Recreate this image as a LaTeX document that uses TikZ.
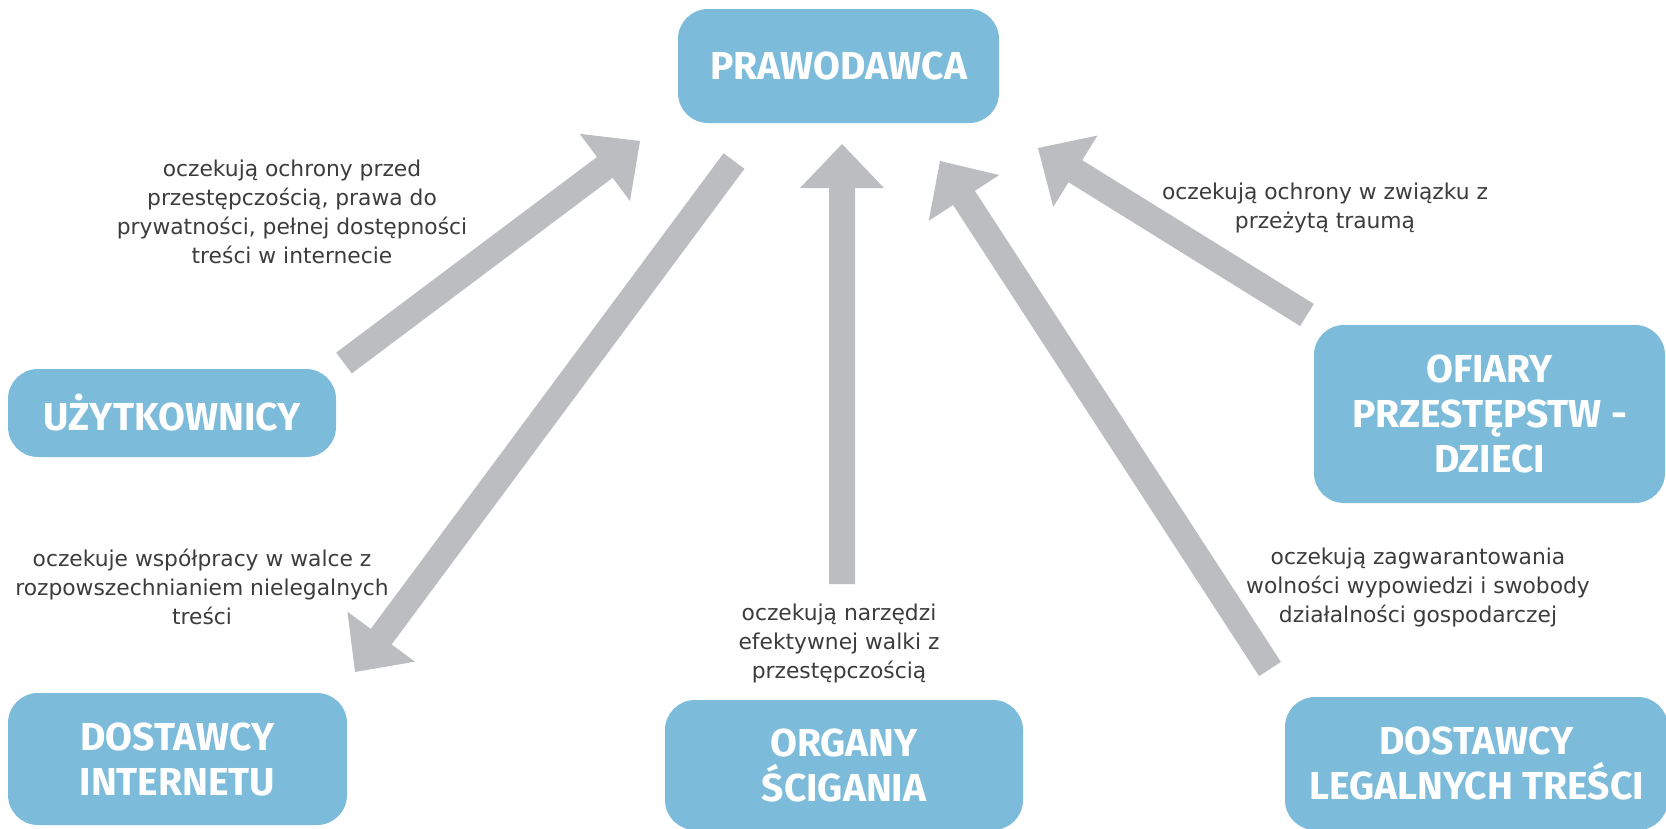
\documentclass[tikz,border=0pt]{standalone}
\usepackage{fontspec}
\setmainfont{DejaVu Sans}
\newfontfamily\boxfont{Fira Sans}
\usetikzlibrary{calc}
\definecolor{boxblue}{HTML}{7CBBD9}
\definecolor{arrowgray}{HTML}{BCBDC1}
\definecolor{labelgray}{HTML}{3C3C3C}
\tikzset{
  stakebox/.style={fill=boxblue, rounded corners=30pt, inner sep=0pt, align=center,
    text=white, font=\boxfont\bfseries\fontsize{39}{45}\selectfont},
  needlabel/.style={align=center, text=labelgray, inner sep=0pt,
    font=\fontsize{21.8}{29}\selectfont},
  fatarrow/.style={fill=arrowgray}
}
\newcommand\fatarrow[2]{%
  \path ($(#2)!44pt!(#1)$) coordinate (hb);
  \fill[fatarrow] ($(#1)!13pt!90:(#2)$) -- ($(hb)!13pt!-90:(#1)$) --
    ($(hb)!42pt!-90:(#1)$) -- (#2) -- ($(hb)!42pt!90:(#1)$) --
    ($(hb)!13pt!90:(#1)$) -- ($(#1)!13pt!-90:(#2)$) -- cycle;
}
\begin{document}
\begin{tikzpicture}[x=1pt,y=-1pt]
\useasboundingbox (0,0) rectangle (1666,828);
\clip (0,0) rectangle (1666,828);
% boxes
\node[stakebox, minimum width=321pt, minimum height=114pt] (praw) at (838.5,66) {PRAWODAWCA};
\node[stakebox, minimum width=328pt, minimum height=88pt] (uzyt) at (172,413) {UŻYTKOWNICY};
\node[stakebox, minimum width=351pt, minimum height=178pt] (ofiary) at (1489.5,414) {OFIARY\\PRZESTĘPSTW -\\DZIECI};
\node[stakebox, minimum width=339pt, minimum height=132pt] (dint) at (177.5,759) {DOSTAWCY\\INTERNETU};
\node[stakebox, minimum width=358pt, minimum height=130pt] (organy) at (844,765) {ORGANY\\ŚCIGANIA};
\node[stakebox, minimum width=383pt, minimum height=133pt] (legal) at (1476.5,763.5) {DOSTAWCY\\LEGALNYCH TREŚCI};
% labels
\node[needlabel] (l1) at (292,212) {oczekują ochrony przed\\przestępczością, prawa do\\prywatności, pełnej dostępności\\treści w internecie};
\node[needlabel] (l2) at (1325,208) {oczekują ochrony w związku z\\przeżytą traumą};
\node[needlabel] (l3) at (202,587) {oczekuje współpracy w walce z\\rozpowszechnianiem nielegalnych\\treści};
\node[needlabel] (l4) at (839,643) {oczekują narzędzi\\efektywnej walki z\\przestępczością};
\node[needlabel] (l5) at (1418,587) {oczekują zagwarantowania\\wolności wypowiedzi i swobody\\działalności gospodarczej};
% arrow ends
\coordinate (a1s) at (344,363);  \coordinate (a1e) at (640,141);
\coordinate (a2s) at (734,161);  \coordinate (a2e) at (355,672);
\coordinate (a3s) at (842,584);  \coordinate (a3e) at (842,144);
\coordinate (a4s) at (1270,669); \coordinate (a4e) at (940,161);
\coordinate (a5s) at (1307,315); \coordinate (a5e) at (1038,148);
\fatarrow{a1s}{a1e}
\fatarrow{a2s}{a2e}
\fatarrow{a3s}{a3e}
\fatarrow{a4s}{a4e}
\fatarrow{a5s}{a5e}
\end{tikzpicture}
\end{document}
